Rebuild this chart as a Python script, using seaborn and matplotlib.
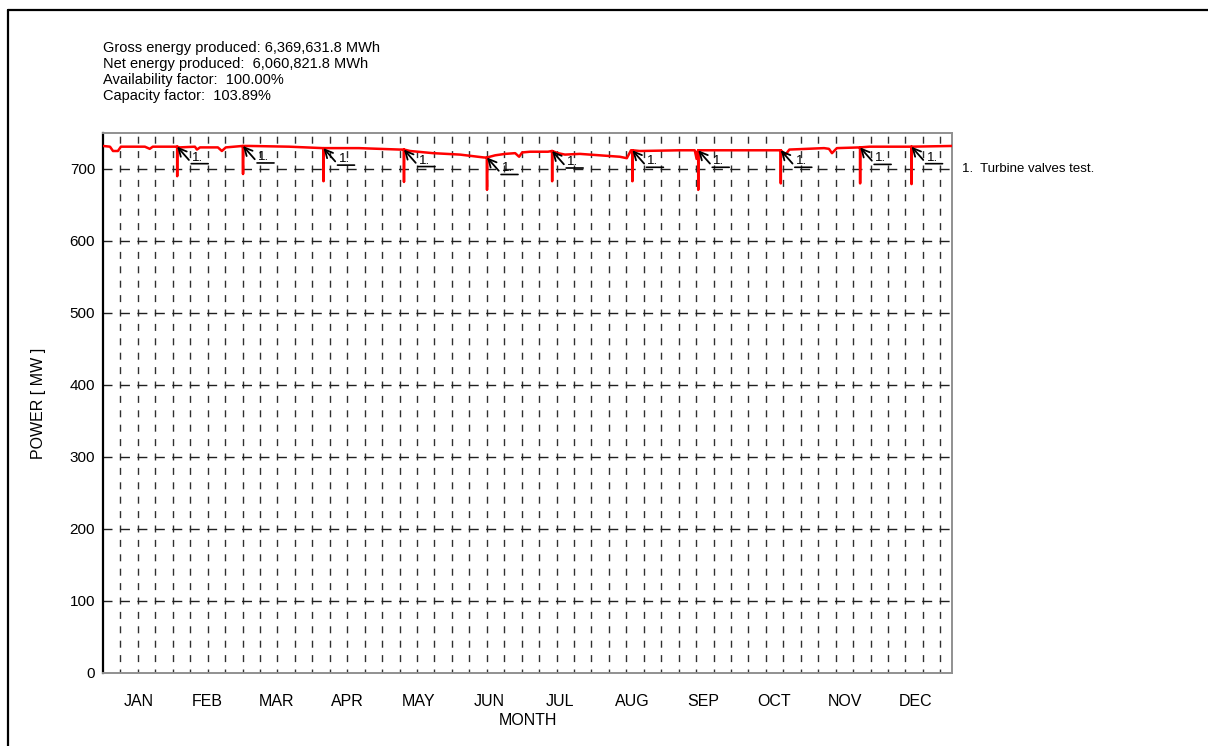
import numpy as np
import pandas as pd
import matplotlib
matplotlib.use("Agg")
import matplotlib.pyplot as plt
from matplotlib.lines import Line2D
from matplotlib.transforms import offset_copy
import seaborn as sns

# ---------------- data ----------------
months = ["JAN", "FEB", "MAR", "APR", "MAY", "JUN", "JUL", "AUG", "SEP", "OCT", "NOV", "DEC"]
month_days = [31, 28, 31, 30, 31, 30, 31, 31, 30, 31, 30, 31]

# baseline power trace (day of year, MW)
base_day = [0.0, 3.0, 4.3, 6.4, 7.7, 18.0, 20.1, 21.4, 30.0,
            33.0, 39.5, 40.4, 41.7, 49.4, 51.1, 52.8, 60.0,
            63.0, 80.0, 94.5,
            97.5, 110.0, 127.5, 129.0,
            132.0, 141.9, 153.5, 163.8, 165.0,
            168.6, 172.9, 177.2, 178.9, 180.2, 183.6, 191.3, 193.0,
            195.6, 198.6, 205.0, 213.6, 222.2, 225.2, 227.0,
            230.8, 248.0, 254.4, 255.2, 255.8,
            257.5, 282.0, 290.5,
            293.4, 295.1, 310.0, 312.1, 313.4, 315.5, 325.5,
            329.5, 347.0, 365.0]
base_mw = [732, 731, 725, 725, 731, 731, 728, 731, 731,
           730, 731, 727, 730, 730, 725, 730, 732,
           732, 731, 729,
           729, 729, 727, 727,
           725, 722, 720, 716, 716,
           719, 721, 722, 717, 723, 724, 724, 725,
           722, 720, 721, 719, 717, 715, 726,
           725, 726, 726, 714, 726,
           726, 726, 726,
           720, 727, 729, 728, 722, 729, 730,
           731, 731, 732]

# turbine valves tests (day, MW before, MW minimum)
spike_day = [31.9, 60.2, 94.8, 129.4, 165.1, 193.1, 227.6, 255.9, 291.4, 325.5, 347.6]
spike_top = [731, 732, 729, 727, 716, 725, 726, 726, 726, 730, 731]
spike_min = [690, 693, 683, 682, 671, 683, 683, 671, 680, 680, 679]

header_lines = ["Gross energy produced: 6,369,631.8 MWh",
                "Net energy produced:  6,060,821.8 MWh",
                "Availability factor:  100.00%",
                "Capacity factor:  103.89%"]
note_text = "1.  Turbine valves test."

# ---------------- build trace ----------------
pts = list(zip(base_day, base_mw))
for d, t, m in zip(spike_day, spike_top, spike_min):
    pts += [(d - 0.01, t), (d, m), (d + 0.01, t)]
pts.sort(key=lambda p: p[0])
df = pd.DataFrame(pts, columns=["day", "mw"])

# ---------------- figure ----------------
sns.set_style("white")
plt.rcParams["font.family"] = ["Liberation Sans", "DejaVu Sans"]
plt.rcParams["text.color"] = "black"
plt.rcParams["axes.labelcolor"] = "black"
plt.rcParams["xtick.color"] = "black"
plt.rcParams["ytick.color"] = "black"

W, H = 1208, 746
fig = plt.figure(figsize=(W / 100, H / 100), dpi=100)
ax = fig.add_axes([103 / W, 1 - 673 / H, (952 - 103) / W, (673 - 133) / H])

ax.set_xlim(0, 365)
ax.set_ylim(0, 750)

# grid: vertical dashed lines every 7.5 days, horizontal every 100 MW
px = 0.72  # points per pixel
for xv in np.arange(7.5, 365, 7.5):
    ax.axvline(xv, color="#303030", lw=1.0,
               linestyle=(3 * px, (7 * px, 7.4 * px)), zorder=1)
for yv in range(100, 701, 100):
    ax.axhline(yv, color="#202020", lw=1.0,
               linestyle=(1 * px, (10 * px, 7.44 * px)), zorder=1)

sns.lineplot(data=df, x="day", y="mw", ax=ax, color="#ff0000", lw=1.8,
             estimator=None, sort=False, zorder=3)

# annotations
for d, t in zip(spike_day, spike_top):
    ax.annotate("1.", xy=(d, t), xytext=(15 * px, -17 * px), textcoords="offset points",
                ha="left", va="bottom", fontsize=9.5,
                arrowprops=dict(arrowstyle="->,head_length=0.6,head_width=0.3",
                                color="black", lw=1.3, shrinkA=0, shrinkB=0,
                                relpos=(0, 0)), zorder=4)
    t1 = offset_copy(ax.transData, fig=fig, x=14, y=-17, units="dots")
    t2 = offset_copy(ax.transData, fig=fig, x=31, y=-17, units="dots")
    ax.annotate("", xy=(d, t), xycoords=t2, xytext=(d, t), textcoords=t1,
                arrowprops=dict(arrowstyle="-", color="black", lw=1.2,
                                shrinkA=0, shrinkB=0), zorder=4)

# ticks
starts = np.concatenate([[0], np.cumsum(month_days)[:-1]])
mids = starts + np.array(month_days) / 2
ax.set_xticks(mids)
ax.set_xticklabels(months, fontsize=11.5)
ax.tick_params(axis="x", length=0, pad=15)
ax.set_yticks(range(0, 701, 100))
ax.tick_params(axis="y", direction="out", length=5 * px, width=1, pad=2,
               labelsize=11, color="black")

ax.set_xlabel("MONTH", fontsize=11.5, labelpad=3)
ax.set_ylabel("POWER [ MW ]", fontsize=11.5, labelpad=17)

for s in ["top", "right", "bottom"]:
    ax.spines[s].set_color("#909090")
    ax.spines[s].set_linewidth(1.4)
ax.spines["left"].set_color("black")
ax.spines["left"].set_linewidth(1.6)

# header text
for i, line in enumerate(header_lines):
    fig.text(103 / W, 1 - (48 + 16 * i) / H, line, fontsize=10.5, ha="left", va="center")

fig.text(962 / W, 1 - 169 / H, note_text, fontsize=9.5, ha="left", va="center")

# figure border (top and left only visible)
fig.add_artist(Line2D([8 / W, 1], [1 - 10 / H, 1 - 10 / H], transform=fig.transFigure,
                      color="black", lw=1.6))
fig.add_artist(Line2D([8 / W, 8 / W], [0, 1 - 10 / H], transform=fig.transFigure,
                      color="black", lw=1.6))

fig.savefig("out.png", dpi=100)
